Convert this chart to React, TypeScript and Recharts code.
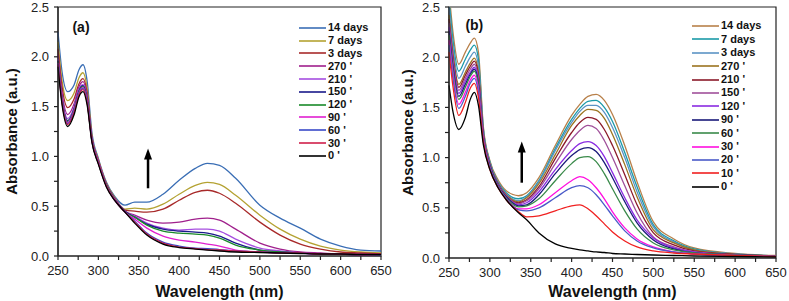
import { LineChart, Line, XAxis, YAxis, Legend, ReferenceArea, ReferenceLine, ReferenceDot } from 'recharts';

const FONT = '"Liberation Sans", Arial, sans-serif';

// panel (a)
const wavelengthA = [250, 255, 262, 270, 276, 281, 286, 292, 300, 310, 320, 333, 345, 360, 380, 400, 420, 435, 450, 470, 500, 525, 550, 575, 600, 625, 650];
const namesA = ['14 days', '7 days', '3 days', "270 '", "210 '", "150 '", "120 '", "90 '", "60 '", "30 '", "0 '"];
const valuesA = [
  [2.25, 1.85, 1.65, 1.72, 1.87, 1.92, 1.76, 1.24, 0.98, 0.74, 0.60, 0.51, 0.54, 0.54, 0.62, 0.76, 0.88, 0.93, 0.91, 0.78, 0.51, 0.38, 0.28, 0.17, 0.10, 0.06, 0.05],
  [2.15, 1.76, 1.56, 1.64, 1.79, 1.84, 1.69, 1.21, 0.97, 0.73, 0.59, 0.47, 0.48, 0.47, 0.52, 0.62, 0.71, 0.74, 0.72, 0.61, 0.41, 0.27, 0.17, 0.10, 0.06, 0.04, 0.03],
  [2.08, 1.70, 1.49, 1.58, 1.73, 1.78, 1.64, 1.19, 0.96, 0.72, 0.58, 0.46, 0.45, 0.44, 0.47, 0.56, 0.64, 0.66, 0.63, 0.53, 0.34, 0.21, 0.12, 0.07, 0.04, 0.03, 0.02],
  [2.02, 1.64, 1.42, 1.53, 1.70, 1.75, 1.61, 1.18, 0.95, 0.72, 0.58, 0.45, 0.41, 0.36, 0.33, 0.34, 0.37, 0.38, 0.36, 0.27, 0.13, 0.07, 0.04, 0.03, 0.02, 0.02, 0.01],
  [1.98, 1.60, 1.38, 1.50, 1.68, 1.72, 1.59, 1.17, 0.95, 0.71, 0.57, 0.45, 0.40, 0.33, 0.28, 0.26, 0.27, 0.27, 0.25, 0.17, 0.08, 0.05, 0.03, 0.02, 0.02, 0.01, 0.01],
  [1.96, 1.58, 1.36, 1.48, 1.66, 1.71, 1.58, 1.17, 0.94, 0.71, 0.57, 0.45, 0.39, 0.32, 0.27, 0.25, 0.24, 0.23, 0.20, 0.13, 0.06, 0.04, 0.03, 0.02, 0.02, 0.01, 0.01],
  [1.95, 1.57, 1.35, 1.47, 1.65, 1.70, 1.57, 1.16, 0.94, 0.71, 0.57, 0.44, 0.39, 0.31, 0.25, 0.23, 0.22, 0.21, 0.18, 0.11, 0.06, 0.04, 0.03, 0.02, 0.02, 0.01, 0.01],
  [1.94, 1.56, 1.34, 1.46, 1.64, 1.69, 1.56, 1.16, 0.94, 0.70, 0.57, 0.44, 0.37, 0.28, 0.20, 0.16, 0.14, 0.12, 0.10, 0.06, 0.04, 0.03, 0.03, 0.02, 0.02, 0.01, 0.01],
  [1.93, 1.55, 1.33, 1.45, 1.63, 1.68, 1.55, 1.15, 0.93, 0.70, 0.56, 0.44, 0.35, 0.23, 0.14, 0.10, 0.08, 0.075, 0.065, 0.05, 0.04, 0.03, 0.03, 0.02, 0.02, 0.02, 0.01],
  [1.92, 1.54, 1.32, 1.44, 1.62, 1.67, 1.54, 1.15, 0.93, 0.70, 0.56, 0.44, 0.34, 0.22, 0.13, 0.09, 0.075, 0.065, 0.06, 0.05, 0.04, 0.03, 0.03, 0.02, 0.02, 0.02, 0.02],
  [1.90, 1.52, 1.30, 1.42, 1.60, 1.65, 1.52, 1.14, 0.92, 0.69, 0.56, 0.44, 0.33, 0.21, 0.12, 0.085, 0.07, 0.06, 0.05, 0.04, 0.035, 0.03, 0.025, 0.02, 0.02, 0.015, 0.015],
];
const colorsA = ['#3a6eb5', '#b4a232', '#a82a2a', '#a0208c', '#a64ee0', '#1a1a8a', '#1a8a2a', '#e020d0', '#3a4ac8', '#d0204a', '#000000'];

// panel (b)
const wavelengthB = [250, 255, 262, 270, 276, 281, 286, 292, 300, 310, 320, 335, 345, 360, 380, 400, 410, 420, 430, 440, 450, 465, 480, 500, 525, 550, 600, 650];
const namesB = ['14 days', '7 days', '3 days', "270 '", "210 '", "150 '", "120 '", "90 '", "60 '", "30 '", "20 '", "10 '", "0 '"];
const valuesB = [
  [2.66, 2.24, 1.93, 2.05, 2.14, 2.19, 2.05, 1.31, 0.97, 0.78, 0.67, 0.62, 0.65, 0.80, 1.12, 1.42, 1.53, 1.61, 1.63, 1.57, 1.43, 1.12, 0.76, 0.36, 0.19, 0.10, 0.045, 0.025],
  [2.58, 2.16, 1.86, 1.98, 2.07, 2.12, 1.98, 1.29, 0.96, 0.76, 0.65, 0.59, 0.62, 0.77, 1.09, 1.38, 1.49, 1.56, 1.57, 1.50, 1.36, 1.05, 0.71, 0.33, 0.17, 0.09, 0.04, 0.02],
  [2.50, 2.09, 1.79, 1.91, 2.00, 2.05, 1.91, 1.27, 0.95, 0.75, 0.64, 0.57, 0.61, 0.76, 1.07, 1.35, 1.46, 1.52, 1.52, 1.45, 1.30, 1.00, 0.66, 0.31, 0.16, 0.08, 0.04, 0.02],
  [2.42, 2.02, 1.73, 1.85, 1.94, 1.99, 1.85, 1.25, 0.94, 0.74, 0.63, 0.56, 0.60, 0.74, 1.03, 1.32, 1.42, 1.48, 1.47, 1.39, 1.23, 0.93, 0.61, 0.28, 0.15, 0.08, 0.035, 0.02],
  [2.38, 1.99, 1.70, 1.82, 1.91, 1.96, 1.82, 1.24, 0.93, 0.74, 0.62, 0.55, 0.58, 0.71, 0.99, 1.25, 1.35, 1.40, 1.38, 1.28, 1.12, 0.83, 0.53, 0.25, 0.13, 0.07, 0.035, 0.02],
  [2.34, 1.96, 1.67, 1.79, 1.88, 1.93, 1.79, 1.23, 0.93, 0.73, 0.62, 0.54, 0.57, 0.69, 0.94, 1.18, 1.27, 1.32, 1.29, 1.17, 1.00, 0.72, 0.45, 0.21, 0.11, 0.06, 0.03, 0.02],
  [2.30, 1.93, 1.64, 1.76, 1.85, 1.90, 1.76, 1.22, 0.92, 0.73, 0.61, 0.53, 0.55, 0.66, 0.88, 1.07, 1.14, 1.16, 1.12, 1.01, 0.85, 0.60, 0.38, 0.20, 0.10, 0.06, 0.03, 0.02],
  [2.26, 1.90, 1.61, 1.73, 1.83, 1.88, 1.74, 1.21, 0.92, 0.72, 0.61, 0.52, 0.53, 0.63, 0.84, 1.02, 1.08, 1.10, 1.06, 0.95, 0.80, 0.56, 0.35, 0.18, 0.09, 0.05, 0.03, 0.02],
  [2.22, 1.87, 1.58, 1.70, 1.81, 1.86, 1.72, 1.20, 0.91, 0.72, 0.60, 0.51, 0.52, 0.59, 0.77, 0.94, 1.00, 1.01, 0.96, 0.84, 0.69, 0.47, 0.29, 0.15, 0.08, 0.05, 0.03, 0.02],
  [2.17, 1.82, 1.53, 1.65, 1.77, 1.82, 1.68, 1.19, 0.90, 0.71, 0.59, 0.49, 0.49, 0.53, 0.65, 0.77, 0.81, 0.78, 0.70, 0.59, 0.46, 0.30, 0.19, 0.11, 0.06, 0.04, 0.025, 0.015],
  [2.12, 1.78, 1.49, 1.61, 1.74, 1.79, 1.65, 1.18, 0.90, 0.71, 0.59, 0.48, 0.47, 0.50, 0.60, 0.70, 0.72, 0.70, 0.63, 0.53, 0.42, 0.27, 0.17, 0.10, 0.06, 0.04, 0.025, 0.015],
  [2.05, 1.70, 1.42, 1.55, 1.69, 1.74, 1.60, 1.16, 0.88, 0.70, 0.58, 0.46, 0.41, 0.42, 0.47, 0.52, 0.53, 0.49, 0.42, 0.34, 0.26, 0.17, 0.11, 0.07, 0.05, 0.04, 0.025, 0.015],
  [1.72, 1.45, 1.28, 1.40, 1.58, 1.65, 1.52, 1.13, 0.88, 0.70, 0.58, 0.45, 0.38, 0.25, 0.14, 0.095, 0.08, 0.07, 0.06, 0.055, 0.045, 0.04, 0.035, 0.03, 0.025, 0.02, 0.015, 0.01],
];
const colorsB = ['#b8804a', '#1a9aa8', '#5b93c4', '#9b7420', '#8b1a2a', '#a0509a', '#8a2be2', '#1a1a7a', '#3a8a4a', '#ff10e0', '#4a5ac8', '#f02020', '#000000'];

const xTicks = [250, 275, 300, 325, 350, 375, 400, 425, 450, 475, 500, 525, 550, 575, 600, 625, 650];
const yTicks = [0, 0.25, 0.5, 0.75, 1, 1.25, 1.5, 1.75, 2, 2.25, 2.5];

function buildRows(wl: number[], values: number[][]) {
  return wl.map((w, i) => {
    const row: any = { w };
    values.forEach((v, k) => { row['s' + k] = v[i]; });
    return row;
  });
}

function LegendBox({ names, colors, rowH }: { names: string[]; colors: string[]; rowH: number }) {
  return (
    <div style={{ fontFamily: FONT, fontWeight: 'bold', fontSize: 11, color: '#111' }}>
      {names.map((n, i) => (
        <div key={n} style={{ display: 'flex', alignItems: 'center', height: rowH }}>
          <svg width={27} height={4} style={{ display: 'block' }}>
            <line x1={0} y1={2} x2={27} y2={2} stroke={colors[i]} strokeWidth={1.6} />
          </svg>
          <span style={{ marginLeft: 2, lineHeight: 1, whiteSpace: 'nowrap' }}>{n}</span>
        </div>
      ))}
    </div>
  );
}

const arrowShape = (p: any) => (
  <g>
    <line x1={p.x1} y1={p.y1} x2={p.x2} y2={p.y2 + 8} stroke="#000" strokeWidth={2.5} />
    <polygon points={`${p.x2},${p.y2} ${p.x2 - 4},${p.y2 + 11} ${p.x2 + 4},${p.y2 + 11}`} fill="#000" />
  </g>
);

type PanelProps = {
  wl: number[];
  names: string[];
  values: number[][];
  colors: string[];
  width: number;
  yAxisWidth: number;
  right: number;
  xAxisHeight: number;
  letter: string;
  letterAt: { x: number; y: number };
  arrow: { x: number; y1: number; y2: number };
  legendPos: { left: number; top: number; rowH: number };
  yLabelOffset: number;
};

function Panel(props: PanelProps) {
  const data = buildRows(props.wl, props.values);
  const tickStyle = { fontSize: 13, fill: '#222', fontFamily: FONT };
  return (
    <LineChart
      width={props.width}
      height={301}
      data={data}
      margin={{ top: 7, right: props.right, left: 0, bottom: 0 }}
      style={{ fontFamily: FONT }}
    >
      <XAxis
        dataKey="w"
        type="number"
        domain={[250, 650]}
        ticks={xTicks}
        interval={0}
        height={props.xAxisHeight}
        tick={tickStyle}
        tickSize={4}
        tickMargin={6}
        tickFormatter={(v: number) => (v % 50 === 0 ? String(v) : '')}
        stroke="#222"
        strokeWidth={1.2}
        label={{ value: 'Wavelength (nm)', position: 'insideBottom', offset: 4, style: { fontSize: 16, fontWeight: 'bold', fill: '#111', fontFamily: FONT } }}
      />
      <YAxis
        type="number"
        domain={[0, 2.5]}
        ticks={yTicks}
        interval={0}
        allowDataOverflow
        width={props.yAxisWidth}
        tick={tickStyle}
        tickSize={4}
        tickMargin={5}
        tickFormatter={(v: number) => (Math.round(v * 100) % 50 === 0 ? v.toFixed(1) : '')}
        stroke="#222"
        strokeWidth={1.2}
        label={{ value: 'Absorbance (a.u.)', angle: -90, position: 'insideLeft', offset: props.yLabelOffset, style: { textAnchor: 'middle', fontSize: 15, fontWeight: 'bold', fill: '#111', fontFamily: FONT } }}
      />
      <ReferenceArea x1={250} x2={650} y1={0} y2={2.5} fill="none" stroke="#222" strokeWidth={1.2} />
      {props.names.map((n, k) => (
        <Line
          key={n}
          dataKey={'s' + k}
          name={n}
          type="monotone"
          stroke={props.colors[k]}
          strokeWidth={1.3}
          dot={false}
          activeDot={false}
          isAnimationActive={false}
        />
      ))}
      <ReferenceLine
        segment={[{ x: props.arrow.x, y: props.arrow.y1 }, { x: props.arrow.x, y: props.arrow.y2 }]}
        shape={arrowShape}
      />
      <ReferenceDot
        x={props.letterAt.x}
        y={props.letterAt.y}
        r={0}
        fill="none"
        stroke="none"
        label={{ value: props.letter, position: 'center', style: { fontSize: 14, fontWeight: 'bold', fill: '#111', fontFamily: FONT } }}
      />
      <Legend
        layout="vertical"
        align="center"
        verticalAlign="middle"
        wrapperStyle={{ left: props.legendPos.left, top: props.legendPos.top, width: 90 }}
        content={() => <LegendBox names={props.names} colors={props.colors} rowH={props.legendPos.rowH} />}
      />
    </LineChart>
  );
}

export default function App() {
  return (
    <div style={{ position: 'absolute', left: 0, top: 0, width: 789, height: 301, background: '#fff', display: 'flex' }}>
      <Panel
        wl={wavelengthA}
        names={namesA}
        values={valuesA}
        colors={colorsA}
        width={395}
        yAxisWidth={58}
        right={14}
        xAxisHeight={45}
        letter="(a)"
        letterAt={{ x: 278.5, y: 2.3 }}
        arrow={{ x: 361.5, y1: 0.68, y2: 1.08 }}
        legendPos={{ left: 299, top: 21.5, rowH: 12.8 }}
        yLabelOffset={12}
      />
      <Panel
        wl={wavelengthB}
        names={namesB}
        values={valuesB}
        colors={colorsB}
        width={394}
        yAxisWidth={54}
        right={13}
        xAxisHeight={43}
        letter="(b)"
        letterAt={{ x: 281, y: 2.32 }}
        arrow={{ x: 339, y1: 0.75, y2: 1.16 }}
        legendPos={{ left: 297, top: 19.3, rowH: 13.4 }}
        yLabelOffset={13}
      />
    </div>
  );
}
